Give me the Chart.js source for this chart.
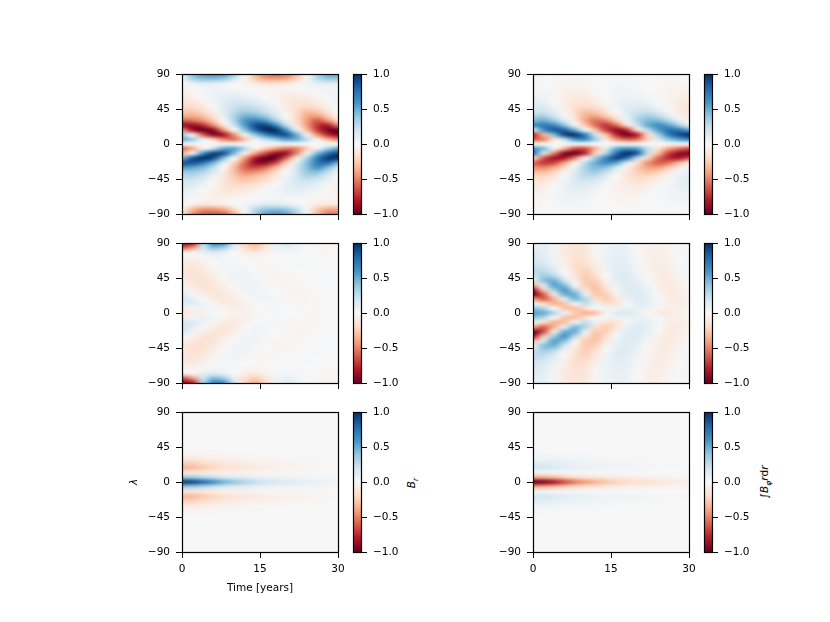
<!DOCTYPE html>
<html>
<head>
<meta charset="utf-8">
<title>Butterfly diagrams</title>
<script src="https://cdn.jsdelivr.net/npm/chart.js@4"></script>
<style>
    body { margin: 0; background: #fff; width: 830px; height: 622px; overflow: hidden; position: relative; }
    canvas { position: absolute; }
    .cbLabel { position: absolute; font: 10.5px "DejaVu Sans"; color: #000; transform: translate(-50%, -50%) rotate(-90deg); white-space: nowrap; }
    .cbLabel sub { font-size: 7.5px; line-height: 0; }
</style>
</head>
<body>
<div class="cbLabel" style="left:411px;top:483px"><i>B</i><sub><i>r</i></sub></div>
<div class="cbLabel" style="left:764px;top:482px">∫<i>B</i><sub><i>φ</i></sub><i>r</i>d<i>r</i></div>
<script>
const timeTicks = [0, 15, 30];
const latTicks = [-90, -45, 0, 45, 90];
const cbTicks = [-1, -0.5, 0, 0.5, 1];

// sample positions of the columns and rows below
const years = [0, 2, 4, 6, 8, 10, 12, 14, 16, 18, 20, 22, 24, 26, 28, 30];
const lats = [90, 84, 78, 72, 66, 60, 54, 48, 42, 36, 30, 24, 18, 12, 6, 0, -6, -12, -18, -24, -30, -36, -42, -48, -54, -60, -66, -72, -78, -84, -90];
const cbLevels = [1, 0.9, 0.8, 0.7, 0.6, 0.5, 0.4, 0.3, 0.2, 0.1, 0, -0.1, -0.2, -0.3, -0.4, -0.5, -0.6, -0.7, -0.8, -0.9, -1];

// values, in hundredths, one line per latitude
const brTop = [
    [5,42,58,62,58,38,5,-32,-52,-58,-52,-32,-5,32,52,52],
    [5,32,42,42,38,20,0,-26,-40,-42,-38,-24,-2,26,38,38],
    [-2,7,14,12,8,1,-3,-10,-14,-14,-11,-4,3,10,12,12],
    [-4,-1,3,5,3,1,0,-1,-3,-4,-3,-1,1,3,4,4],
    [-8,-3,2,6,7,6,4,1,-1,-3,-5,-5,-3,0,3,5],
    [-10,-6,0,6,10,12,10,6,1,-4,-8,-10,-8,-4,1,6],
    [-15,-12,-5,3,12,17,16,12,6,-2,-8,-13,-13,-8,-1,6],
    [-20,-18,-11,-1,12,22,26,22,15,5,-7,-16,-20,-15,-6,3],
    [-27,-27,-19,-6,10,26,34,30,22,10,-5,-18,-30,-26,-13,0],
    [-35,-37,-30,-14,8,30,48,46,36,18,0,-18,-38,-42,-25,-6],
    [-60,-55,-45,-26,0,30,58,68,58,34,8,-17,-42,-62,-45,-20],
    [-85,-88,-75,-48,-12,20,55,88,92,68,25,-10,-42,-72,-80,-50],
    [-45,-85,-100,-90,-45,0,40,78,100,100,60,10,-30,-70,-95,-98],
    [35,-5,-60,-92,-85,-45,5,40,65,85,88,50,-5,-45,-75,-92],
    [50,35,8,-25,-50,-55,-30,5,25,40,55,50,25,-5,-35,-50],
    [2,2,1,0,-2,-2,-1,0,1,1,2,1,1,0,-1,-1],
    [-55,-38,-8,25,52,55,30,-5,-25,-42,-55,-50,-25,5,35,52],
    [-35,5,60,92,88,45,-5,-40,-65,-88,-88,-50,5,45,75,92],
    [45,85,100,92,45,0,-40,-78,-100,-100,-60,-10,30,70,95,98],
    [85,88,75,48,12,-20,-55,-88,-92,-68,-25,10,42,72,80,50],
    [60,55,45,26,0,-30,-58,-68,-58,-34,-8,17,42,62,45,20],
    [35,37,30,14,-8,-30,-48,-46,-36,-18,0,18,38,42,25,6],
    [27,27,19,6,-10,-26,-34,-30,-22,-10,5,18,30,26,13,0],
    [20,18,11,1,-12,-22,-26,-22,-15,-5,7,16,20,15,6,-3],
    [15,12,5,-3,-12,-17,-16,-12,-6,2,8,13,13,8,1,-6],
    [10,6,0,-6,-10,-12,-10,-6,-1,4,8,10,8,4,-1,-6],
    [8,3,-2,-6,-7,-6,-4,-1,1,3,5,5,3,0,-3,-5],
    [4,1,-3,-5,-3,-1,0,1,3,4,3,1,-1,-3,-4,-4],
    [2,-7,-14,-12,-8,-1,3,10,14,14,11,4,-3,-10,-12,-12],
    [-5,-32,-44,-44,-38,-20,0,26,40,42,38,24,2,-26,-38,-38],
    [-5,-45,-60,-62,-58,-38,-5,32,52,58,52,32,5,-32,-52,-52]
];
const phiTop = [
    [2,1,0,-1,-1,-1,0,1,1,1,0,0,-1,-1,-1,0],
    [2,1,0,-2,-2,-2,0,1,1,1,0,0,-1,-1,-1,-1],
    [2,1,-1,-3,-3,-2,0,1,2,2,1,0,-1,-1,-1,-2],
    [3,1,-2,-4,-5,-3,-1,1,3,3,2,0,-1,-2,-3,-3],
    [4,3,-2,-5,-7,-6,-2,1,3,4,4,1,-1,-3,-4,-5],
    [7,5,-1,-6,-9,-9,-5,0,4,6,6,3,0,-3,-6,-7],
    [10,8,1,-6,-12,-13,-8,-1,5,9,9,6,1,-4,-8,-10],
    [15,13,5,-6,-15,-19,-15,-5,4,11,14,12,5,-2,-9,-13],
    [20,20,11,-3,-17,-28,-26,-13,0,12,20,22,13,2,-8,-13],
    [30,33,20,3,-15,-35,-40,-26,-8,10,26,33,27,12,-3,-12],
    [45,50,38,15,-8,-38,-55,-50,-25,4,30,45,45,30,10,-5],
    [60,72,65,42,5,-25,-55,-72,-58,-20,20,50,62,55,35,12],
    [10,60,85,82,50,5,-30,-68,-90,-75,-20,25,55,75,72,55],
    [-75,-35,45,92,98,68,20,-30,-75,-98,-78,-20,32,68,88,98],
    [-60,-50,-15,25,60,65,35,-10,-45,-60,-55,-25,15,40,55,65],
    [-3,-2,0,1,2,2,1,0,-1,-2,-2,-1,0,1,2,2],
    [60,45,5,-35,-65,-65,-35,10,50,60,55,25,-15,-40,-55,-65],
    [75,20,-50,-92,-100,-75,-22,30,75,100,85,25,-28,-68,-88,-96],
    [-15,-60,-85,-82,-52,-5,35,65,92,78,30,-20,-55,-75,-82,-65],
    [-55,-72,-68,-42,-5,25,50,65,55,20,-15,-45,-60,-55,-35,-12],
    [-45,-50,-40,-20,5,32,45,42,20,-3,-25,-40,-42,-28,-10,3],
    [-30,-32,-22,-6,12,30,36,24,6,-10,-24,-30,-25,-12,2,10],
    [-20,-20,-12,1,15,25,24,12,0,-12,-20,-20,-12,-3,7,12],
    [-15,-13,-5,5,14,18,14,5,-3,-10,-14,-12,-5,2,8,12],
    [-10,-8,-1,6,11,13,8,1,-5,-8,-9,-6,-1,4,8,10],
    [-7,-5,1,6,9,8,5,0,-4,-6,-6,-3,0,3,6,7],
    [-4,-3,2,5,7,6,2,-1,-3,-4,-4,-1,1,3,4,5],
    [-3,-1,2,4,5,3,1,-1,-3,-3,-2,0,1,2,3,3],
    [-2,-1,1,3,3,2,0,-1,-2,-2,-1,0,1,1,1,2],
    [-2,-1,0,2,2,2,0,-1,-1,-1,0,0,1,1,1,1],
    [-2,-1,0,1,1,1,0,-1,-1,-1,0,0,1,1,1,0]
];
const brMid = [
    [-90,-80,25,65,62,18,-20,-36,-18,8,14,8,-1,-3,-3,-2],
    [-60,-45,18,42,34,8,-16,-25,-11,6,9,6,-1,-2,-2,-1],
    [-10,-5,10,14,10,0,-7,-10,-6,1,3,2,0,-1,-2,-1],
    [-3,-3,1,4,3,0,-2,-3,-2,0,1,1,0,0,-1,-1],
    [-7,-9,-5,0,2,2,0,-1,-1,0,1,1,1,0,-1,-1],
    [-10,-12,-8,-1,3,3,2,0,-2,-1,0,1,1,0,0,-1],
    [-10,-14,-11,-4,2,4,3,1,-2,-2,-1,0,1,1,0,0],
    [-10,-14,-13,-7,1,4,4,2,-1,-3,-2,-1,0,1,1,0],
    [-8,-13,-14,-10,-2,3,5,3,0,-3,-3,-2,0,1,1,0],
    [-5,-10,-14,-12,-5,1,4,4,1,-2,-3,-2,-1,0,1,0],
    [2,-5,-12,-13,-8,-2,3,4,2,-1,-3,-3,-1,0,1,1],
    [12,3,-6,-12,-11,-5,1,4,3,0,-2,-3,-2,0,1,1],
    [17,10,0,-8,-11,-8,-2,2,3,1,-2,-3,-2,-1,0,1],
    [12,13,6,-2,-8,-9,-4,0,2,2,0,-2,-2,-1,0,0],
    [-8,3,6,3,-3,-6,-5,-2,1,2,1,-1,-2,-1,0,0],
    [-12,-8,-4,0,-1,-4,-4,-2,0,1,1,0,-1,-1,0,0],
    [-8,4,7,3,-3,-6,-5,-2,1,2,1,-1,-2,-1,0,0],
    [14,15,7,-2,-8,-10,-5,0,2,2,0,-2,-2,-1,0,0],
    [20,12,1,-8,-12,-9,-2,2,3,1,-2,-3,-3,-1,0,1],
    [15,5,-6,-13,-12,-6,1,4,3,0,-2,-3,-2,0,1,1],
    [3,-5,-13,-14,-9,-2,3,4,2,-1,-3,-3,-1,0,1,1],
    [-5,-11,-15,-13,-5,1,4,4,1,-2,-3,-2,-1,0,1,0],
    [-9,-14,-15,-10,-2,3,5,3,0,-3,-3,-2,0,1,1,0],
    [-11,-15,-13,-7,1,4,4,2,-1,-3,-2,-1,0,1,1,0],
    [-11,-14,-11,-4,2,4,3,1,-2,-2,-1,0,1,1,0,0],
    [-10,-12,-8,-1,3,3,2,0,-2,-1,0,1,1,0,0,-1],
    [-7,-9,-5,0,2,2,0,-1,-1,0,1,1,1,0,-1,-1],
    [-3,-3,1,4,3,0,-2,-3,-2,0,1,1,0,0,-1,-1],
    [-10,-5,10,14,10,0,-7,-10,-6,1,3,2,0,-1,-2,-2],
    [-65,-45,20,44,36,9,-16,-25,-13,4,7,5,0,-2,-3,-2],
    [-92,-82,30,68,62,20,-20,-36,-20,5,12,8,0,-2,-4,-3]
];
const phiMid = [
    [8,8,3,-8,-12,-10,-1,5,7,6,-1,-5,-6,-3,1,2],
    [10,9,3,-9,-13,-11,-2,5,8,7,0,-5,-6,-3,1,2],
    [12,10,3,-9,-14,-12,-2,6,8,7,0,-5,-7,-4,1,2],
    [14,12,4,-8,-15,-13,-3,6,9,8,1,-5,-7,-4,0,2],
    [18,15,6,-6,-16,-15,-4,6,10,9,2,-4,-7,-5,0,2],
    [22,20,10,-4,-17,-20,-8,5,11,10,3,-4,-8,-6,-1,2],
    [26,27,15,-1,-15,-23,-12,4,12,11,5,-3,-8,-7,-2,1],
    [20,35,28,5,-12,-25,-17,0,11,13,7,-1,-8,-8,-3,1],
    [5,42,48,20,-6,-26,-23,-5,9,13,9,1,-7,-9,-4,0],
    [-35,15,55,42,2,-24,-28,-11,6,14,11,3,-5,-10,-6,-1],
    [-80,-25,35,58,28,-14,-30,-18,2,13,13,6,-4,-10,-7,-2],
    [-100,-60,-10,48,50,8,-26,-24,-4,11,14,9,-1,-9,-8,-3],
    [-40,-60,-35,10,45,30,-15,-26,-12,7,13,10,1,-7,-8,-4],
    [10,-15,-35,-30,5,25,8,-15,-15,1,10,10,4,-5,-8,-5],
    [40,30,0,-28,-30,-18,0,5,5,7,7,4,-2,-6,-6,-3],
    [55,50,30,5,-25,-35,-30,-3,12,15,10,-2,-8,-10,-6,-1],
    [40,30,0,-28,-30,-18,0,5,5,7,7,4,-2,-6,-6,-3],
    [10,-15,-35,-30,5,25,8,-15,-15,1,10,10,4,-5,-8,-5],
    [-40,-60,-35,10,45,30,-15,-26,-12,7,13,10,1,-7,-8,-4],
    [-100,-65,-10,48,50,8,-26,-24,-4,11,14,9,-1,-9,-8,-3],
    [-85,-28,35,60,28,-14,-30,-18,2,13,13,6,-4,-10,-7,-2],
    [-35,15,55,42,2,-24,-28,-11,6,14,11,3,-5,-10,-6,-1],
    [5,42,48,20,-6,-26,-23,-5,9,13,9,1,-7,-9,-4,0],
    [20,35,28,5,-12,-25,-17,0,11,13,7,-1,-8,-8,-3,1],
    [26,27,15,-1,-15,-23,-12,4,12,11,5,-3,-8,-7,-2,1],
    [22,20,10,-4,-17,-20,-8,5,11,10,3,-4,-8,-6,-1,2],
    [18,15,6,-6,-16,-15,-4,6,10,9,2,-4,-7,-5,0,2],
    [14,12,4,-8,-15,-13,-3,6,9,8,1,-5,-7,-4,0,2],
    [12,10,3,-9,-14,-12,-2,6,8,7,0,-5,-7,-4,1,2],
    [10,9,3,-9,-13,-11,-2,5,8,7,0,-5,-6,-3,1,2],
    [8,8,3,-8,-12,-10,-1,5,7,6,-1,-5,-6,-3,1,2]
];
const brBot = [
    [0,0,0,0,0,0,0,0,0,0,0,0,0,0,0,0],
    [0,0,0,0,0,0,0,0,0,0,0,0,0,0,0,0],
    [0,0,0,0,0,0,0,0,0,0,0,0,0,0,0,0],
    [0,0,0,0,0,0,0,0,0,0,0,0,0,0,0,0],
    [0,0,0,0,0,0,0,0,0,0,0,0,0,0,0,0],
    [0,0,0,0,0,0,0,0,0,0,0,0,0,0,0,0],
    [0,0,0,0,0,0,0,0,0,0,0,0,0,0,0,0],
    [-1,0,0,0,0,0,0,0,0,0,0,0,0,0,0,0],
    [-1,-1,-1,-1,0,0,0,0,0,0,0,0,0,0,0,0],
    [-3,-3,-3,-2,-2,-1,-1,-1,0,0,0,0,0,0,0,0],
    [-10,-10,-8,-6,-5,-4,-3,-2,-2,-2,-1,-1,-1,-1,0,0],
    [-25,-24,-20,-15,-12,-9,-8,-6,-5,-4,-3,-3,-2,-2,-1,-1],
    [-33,-31,-26,-20,-16,-13,-11,-9,-7,-6,-5,-4,-3,-2,-2,-1],
    [-12,-12,-10,-8,-6,-5,-4,-3,-3,-2,-2,-2,-1,-1,-1,0],
    [38,36,30,24,18,14,12,9,7,6,5,4,3,3,2,1],
    [95,90,78,62,48,38,31,24,19,16,13,11,9,7,5,4],
    [38,36,30,24,18,14,12,9,7,6,5,4,3,3,2,1],
    [-12,-12,-10,-8,-6,-5,-4,-3,-3,-2,-2,-2,-1,-1,-1,0],
    [-33,-31,-26,-20,-16,-13,-11,-9,-7,-6,-5,-4,-3,-2,-2,-1],
    [-25,-24,-20,-15,-12,-9,-8,-6,-5,-4,-3,-3,-2,-2,-1,-1],
    [-10,-10,-8,-6,-5,-4,-3,-2,-2,-2,-1,-1,-1,-1,0,0],
    [-3,-3,-3,-2,-2,-1,-1,-1,0,0,0,0,0,0,0,0],
    [-1,-1,-1,-1,0,0,0,0,0,0,0,0,0,0,0,0],
    [-1,0,0,0,0,0,0,0,0,0,0,0,0,0,0,0],
    [0,0,0,0,0,0,0,0,0,0,0,0,0,0,0,0],
    [0,0,0,0,0,0,0,0,0,0,0,0,0,0,0,0],
    [0,0,0,0,0,0,0,0,0,0,0,0,0,0,0,0],
    [0,0,0,0,0,0,0,0,0,0,0,0,0,0,0,0],
    [0,0,0,0,0,0,0,0,0,0,0,0,0,0,0,0],
    [0,0,0,0,0,0,0,0,0,0,0,0,0,0,0,0],
    [0,0,0,0,0,0,0,0,0,0,0,0,0,0,0,0]
];
const phiBot = [
    [0,0,0,0,0,0,0,0,0,0,0,0,0,0,0,0],
    [0,0,0,0,0,0,0,0,0,0,0,0,0,0,0,0],
    [0,0,0,0,0,0,0,0,0,0,0,0,0,0,0,0],
    [0,0,0,0,0,0,0,0,0,0,0,0,0,0,0,0],
    [0,0,0,0,0,0,0,0,0,0,0,0,0,0,0,0],
    [0,0,0,0,0,0,0,0,0,0,0,0,0,0,0,0],
    [0,0,0,0,0,0,0,0,0,0,0,0,0,0,0,0],
    [0,0,0,0,0,0,0,0,0,0,0,0,0,0,0,0],
    [1,1,0,0,0,0,0,0,0,0,0,0,0,0,0,0],
    [2,2,2,1,1,1,1,0,0,0,0,0,0,0,0,0],
    [5,6,5,4,3,3,2,2,1,1,1,1,1,0,0,0],
    [12,12,10,8,7,6,5,4,3,3,2,2,1,1,1,0],
    [17,17,14,11,9,7,6,5,4,3,3,2,2,1,1,1],
    [4,4,3,3,2,2,1,1,1,1,1,0,0,0,0,0],
    [-40,-38,-32,-26,-20,-16,-14,-11,-9,-7,-6,-5,-4,-3,-3,-2],
    [-100,-96,-82,-66,-52,-42,-35,-28,-23,-19,-16,-14,-12,-10,-8,-6],
    [-40,-38,-32,-26,-20,-16,-14,-11,-9,-7,-6,-5,-4,-3,-3,-2],
    [4,4,3,3,2,2,1,1,1,1,1,0,0,0,0,0],
    [17,17,14,11,9,7,6,5,4,3,3,2,2,1,1,1],
    [12,12,10,8,7,6,5,4,3,3,2,2,1,1,1,0],
    [5,6,5,4,3,3,2,2,1,1,1,1,1,0,0,0],
    [2,2,2,1,1,1,1,0,0,0,0,0,0,0,0,0],
    [1,1,0,0,0,0,0,0,0,0,0,0,0,0,0,0],
    [0,0,0,0,0,0,0,0,0,0,0,0,0,0,0,0],
    [0,0,0,0,0,0,0,0,0,0,0,0,0,0,0,0],
    [0,0,0,0,0,0,0,0,0,0,0,0,0,0,0,0],
    [0,0,0,0,0,0,0,0,0,0,0,0,0,0,0,0],
    [0,0,0,0,0,0,0,0,0,0,0,0,0,0,0,0],
    [0,0,0,0,0,0,0,0,0,0,0,0,0,0,0,0],
    [0,0,0,0,0,0,0,0,0,0,0,0,0,0,0,0],
    [0,0,0,0,0,0,0,0,0,0,0,0,0,0,0,0]
];

// RdBu colormap
const rdbu = [[103,0,31],[178,24,43],[214,96,77],[244,165,130],[253,219,199],[247,247,247],[209,229,240],[146,197,222],[67,147,195],[33,102,172],[5,48,97]];

function colorFor(v) {
    let p = (Math.max(-1, Math.min(1, v)) + 1) * 5;
    let i = Math.min(9, Math.floor(p));
    let f = p - i;
    return rdbu[i].map((c, k) => Math.round(c + (rdbu[i + 1][k] - c) * f));
}

function minusSign(text) {
    return String(text).replace("-", "\u2212");
}

// paints the grid under the axes, smoothed like the original imshow
const heatPlugin = {
    id: "heat",
    beforeDatasetsDraw(chart) {
        const ds = chart.data.datasets[0];
        const off = document.createElement("canvas");
        off.width = ds.cols;
        off.height = ds.rows;
        const octx = off.getContext("2d");
        const img = octx.createImageData(ds.cols, ds.rows);
        ds.data.forEach((pt, i) => {
            const rgb = colorFor(pt.v);
            img.data.set([rgb[0], rgb[1], rgb[2], 255], i * 4);
        });
        octx.putImageData(img, 0, 0);

        const first = ds.data[0], last = ds.data[ds.data.length - 1];
        const x0 = chart.scales.x.getPixelForValue(first.x);
        const x1 = chart.scales.x.getPixelForValue(last.x);
        const y0 = chart.scales.y.getPixelForValue(first.y);
        const y1 = chart.scales.y.getPixelForValue(last.y);
        const ctx = chart.ctx;
        ctx.save();
        ctx.imageSmoothingEnabled = true;
        ctx.imageSmoothingQuality = "high";
        ctx.drawImage(off, 0.5, 0.5, ds.cols - 1, ds.rows - 1, x0, y0, x1 - x0, y1 - y0);
        ctx.restore();
    },
    afterDraw(chart) {
        const a = chart.chartArea;
        const ctx = chart.ctx;
        ctx.save();
        ctx.strokeStyle = "#000";
        ctx.lineWidth = 1.2;
        ctx.strokeRect(a.left + 0.5, a.top + 0.5, a.right - a.left, a.bottom - a.top);
        ctx.restore();
    }
};

const tickFont = { family: "DejaVu Sans", size: 10.5 };
const tickGrid = { drawOnChartArea: false, drawTicks: true, tickLength: 6, tickColor: "#000", lineWidth: 1 };

function setTicks(list) {
    return scale => { scale.ticks = list.map(v => ({ value: v })); };
}

function fixSize(prop, size) {
    return scale => {
        scale[prop] = size;
        scale.paddingLeft = scale.paddingRight = scale.paddingTop = scale.paddingBottom = 0;
    };
}

function addCanvas(left, top, w, h) {
    const c = document.createElement("canvas");
    c.width = w;
    c.height = h;
    c.style.left = left + "px";
    c.style.top = top + "px";
    c.style.width = w + "px";
    c.style.height = h + "px";
    document.body.appendChild(c);
    return c;
}

function panel(left, top, grid, showTime, showTimeTitle, showLat) {
    const marginL = 54, marginB = 43, marginT = 8, marginR = 12;
    const c = addCanvas(left - marginL, top - marginT, marginL + 156 + marginR, marginT + 140 + marginB);
    const points = [];
    lats.forEach((lat, r) => years.forEach((yr, k) => points.push({ x: yr, y: lat, v: grid[r][k] / 100 })));
    new Chart(c, {
        type: "scatter",
        data: { datasets: [{ data: points, cols: years.length, rows: lats.length, pointRadius: 0 }] },
        options: {
            responsive: false,
            animation: false,
            events: [],
            layout: { padding: { top: marginT, right: marginR, left: 0, bottom: 0 } },
            plugins: { legend: { display: false }, tooltip: { enabled: false } },
            scales: {
                x: {
                    type: "linear", min: 0, max: 30,
                    afterBuildTicks: setTicks(timeTicks),
                    afterFit: fixSize("height", marginB),
                    grid: tickGrid,
                    border: { display: false },
                    ticks: { font: tickFont, color: "#000", padding: 5, maxRotation: 0, autoSkip: false, callback: v => showTime ? String(v) : "" },
                    title: { display: showTimeTitle, text: "Time [years]", font: tickFont, color: "#000", padding: 0 }
                },
                y: {
                    type: "linear", min: -90, max: 90,
                    afterBuildTicks: setTicks(latTicks),
                    afterFit: fixSize("width", marginL),
                    grid: tickGrid,
                    border: { display: false },
                    ticks: { font: tickFont, color: "#000", padding: 6, autoSkip: false, callback: v => minusSign(v) },
                    title: { display: showLat, text: "\u03bb", font: { family: "DejaVu Sans", size: 10.5, style: "italic" }, color: "#000", padding: 0 }
                }
            }
        },
        plugins: [heatPlugin]
    });
}

function colorbar(left, top) {
    const marginL = 2, marginR = 40, marginT = 8, marginB = 8;
    const c = addCanvas(left - marginL, top - marginT, marginL + 8 + marginR, marginT + 140 + marginB);
    const points = [];
    cbLevels.forEach(level => [0, 1].forEach(x => points.push({ x: x, y: level, v: level })));
    new Chart(c, {
        type: "scatter",
        data: { datasets: [{ data: points, cols: 2, rows: cbLevels.length, pointRadius: 0 }] },
        options: {
            responsive: false,
            animation: false,
            events: [],
            layout: { padding: { top: marginT, bottom: marginB, left: marginL, right: 0 } },
            plugins: { legend: { display: false }, tooltip: { enabled: false } },
            scales: {
                x: { type: "linear", min: 0, max: 1, display: false },
                y: {
                    type: "linear", position: "right", min: -1, max: 1,
                    afterBuildTicks: setTicks(cbTicks),
                    afterFit: fixSize("width", marginR),
                    grid: tickGrid,
                    border: { display: false },
                    ticks: { font: tickFont, color: "#000", padding: 6, autoSkip: false, callback: v => minusSign(v.toFixed(1)) }
                }
            }
        },
        plugins: [heatPlugin]
    });
}

panel(182, 74, brTop, false, false, false);
colorbar(353, 74);
panel(533, 74, phiTop, false, false, false);
colorbar(704, 74);
panel(182, 243, brMid, false, false, false);
colorbar(353, 243);
panel(533, 243, phiMid, false, false, false);
colorbar(704, 243);
panel(182, 412, brBot, true, true, true);
colorbar(353, 412);
panel(533, 412, phiBot, true, false, false);
colorbar(704, 412);
</script>
</body>
</html>
